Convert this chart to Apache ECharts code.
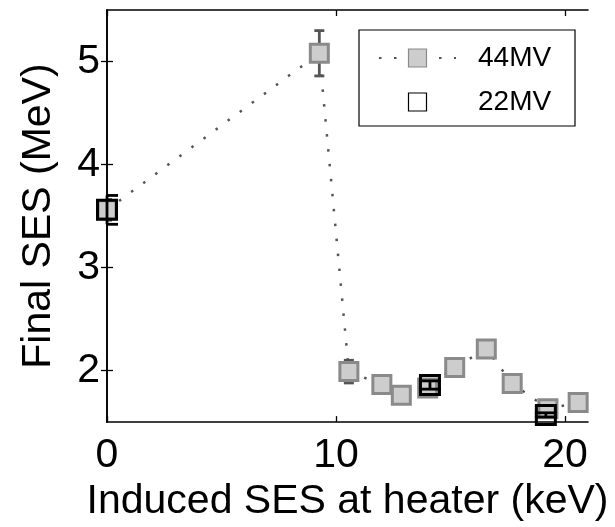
<!DOCTYPE html>
<html>
<head>
<meta charset="utf-8">
<script src="https://cdn.jsdelivr.net/npm/echarts@6/dist/echarts.min.js"></script>
<style>
  html, body { margin: 0; padding: 0; background: #fff; }
  #chart { width: 615px; height: 527px; }
</style>
</head>
<body>
<div id="chart"></div>
<script>
// Induced SES at heater (keV) vs final SES (MeV)
const heater44 = [0, 9.27, 10.56, 12.0, 12.85, 14.0, 15.18, 16.56, 17.69, 19.25, 20.57];
const final44  = [3.56, 5.08, 1.99, 1.865, 1.76, 1.83, 2.03, 2.21, 1.875, 1.63, 1.69];
const err44    = [0.10, 0.22, 0.11, 0.04, 0.04, 0.04, 0.04, 0.04, 0.04, 0.04, 0.04];

const heater22 = [0, 14.1, 19.16];
const final22  = [3.56, 1.86, 1.57];
const err22    = [0.14, 0.04, 0.02];

const xTicks = [0, 10, 20];
const yTicks = [2, 3, 4, 5];

const FONT = 'Liberation Sans, Arial, sans-serif';

function pts(xs, ys) { return xs.map((x, i) => [x, ys[i]]); }
function errPts(xs, ys, es) { return xs.map((x, i) => [x, ys[i], es[i]]); }

// Vertical error bar with caps, trimmed to the plot area
function errorBars(capHalf, color, width) {
  return function (params, api) {
    const cs = params.coordSys;
    const x0 = cs.x, x1 = cs.x + cs.width;
    const x = api.value(0), y = api.value(1), e = api.value(2);
    const top = api.coord([x, y + e]);
    const bot = api.coord([x, y - e]);
    const cl = Math.max(x0, top[0] - capHalf);
    const cr = Math.min(x1, top[0] + capHalf);
    const st = { stroke: color, lineWidth: width };
    return {
      type: 'group',
      children: [
        { type: 'line', shape: { x1: top[0], y1: top[1], x2: bot[0], y2: bot[1] }, style: st },
        { type: 'line', shape: { x1: cl, y1: top[1], x2: cr, y2: top[1] }, style: st },
        { type: 'line', shape: { x1: cl, y1: bot[1], x2: cr, y2: bot[1] }, style: st }
      ]
    };
  };
}

const axisLine = { show: true, lineStyle: { color: '#000', width: 1.6 } };
const tickIn = (vals) => ({ show: true, inside: true, length: 6, lineStyle: { color: '#000', width: 1.3 }, customValues: vals });

const chart = echarts.init(document.getElementById('chart'));
chart.setOption({
  animation: false,
  backgroundColor: '#fff',
  grid: { left: 107, right: 27, top: 10, bottom: 99 },
  xAxis: [
    {
      type: 'value', min: 0, max: 21, position: 'bottom',
      axisLine, axisTick: tickIn(xTicks), splitLine: { show: false },
      axisLabel: { customValues: xTicks, color: '#000', fontFamily: FONT, fontSize: 41, margin: 13 },
      name: 'Induced SES at heater (keV)', nameLocation: 'middle', nameGap: 55,
      nameTextStyle: { color: '#000', fontFamily: FONT, fontSize: 41 }
    },
    {
      type: 'value', min: 0, max: 21, position: 'top',
      axisLine, axisTick: tickIn(xTicks), splitLine: { show: false },
      axisLabel: { show: false }
    }
  ],
  yAxis: [
    {
      type: 'value', min: 1.5, max: 5.5, position: 'left',
      axisLine, axisTick: tickIn(yTicks), splitLine: { show: false },
      axisLabel: { customValues: yTicks, color: '#000', fontFamily: FONT, fontSize: 41, margin: 7 },
      name: 'Final SES (MeV)', nameLocation: 'middle', nameGap: 48,
      nameTextStyle: { color: '#000', fontFamily: FONT, fontSize: 41 }
    },
    {
      type: 'value', min: 1.5, max: 5.5, position: 'right',
      axisLine, axisTick: tickIn(yTicks), splitLine: { show: false },
      axisLabel: { show: false }
    }
  ],
  legend: {
    orient: 'vertical', left: 359, top: 30,
    padding: [14, 22, 10, 19],
    borderColor: '#000', borderWidth: 1.2, backgroundColor: '#fff',
    itemWidth: 77, itemHeight: 22.5, itemGap: 16,
    itemStyle: { borderWidth: 1.2 },
    textStyle: { color: '#000', fontFamily: FONT, fontSize: 28, padding: [0, 0, 0, 17], width: 75, lineHeight: 28 },
    data: ['44MV', '22MV']
  },
  series: [
    {
      name: '44MV err', type: 'custom', z: 2,
      data: errPts(heater44, final44, err44),
      renderItem: errorBars(5, '#555', 2.8)
    },
    {
      name: '44MV', type: 'line', clip: false, z: 3,
      data: pts(heater44, final44),
      symbol: 'rect', symbolSize: 18,
      lineStyle: { color: '#555', width: 2.5, type: [2.5, 12.5], cap: 'butt' },
      itemStyle: { color: '#cdcdcd', borderColor: '#8a8a8a', borderWidth: 3, opacity: 1 }
    },
    {
      name: '22MV', type: 'line', clip: false, z: 4,
      data: pts(heater22, final22),
      symbol: 'rect', symbolSize: 19,
      lineStyle: { opacity: 0, width: 0.01 },
      itemStyle: { color: 'rgba(0,0,0,0)', borderColor: '#000', borderWidth: 3, opacity: 1 }
    },
    {
      name: '22MV err', type: 'custom', z: 5,
      data: errPts(heater22, final22, err22),
      renderItem: errorBars(11, '#000', 2.8)
    }
  ]
});
</script>
</body>
</html>
